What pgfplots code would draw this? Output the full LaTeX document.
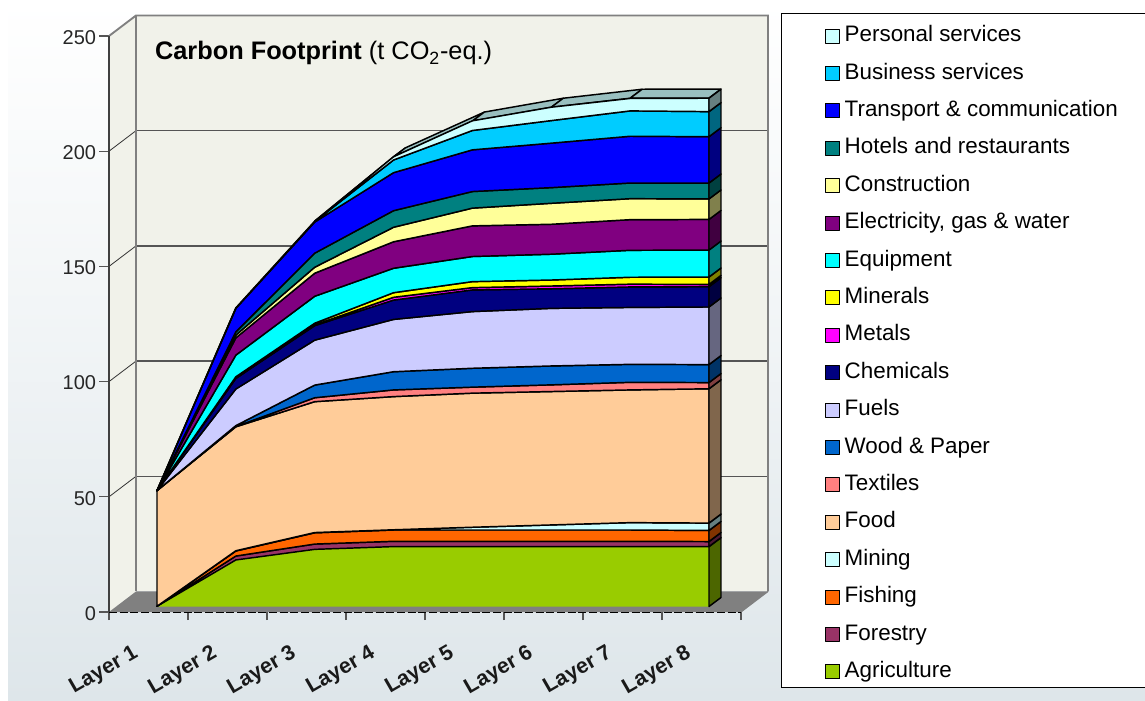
\documentclass[border=0pt]{standalone}
\usepackage{pgfplots}
\pgfplotsset{compat=1.18}
\usepackage{pgfplotstable}
\usepackage{fontspec}
\setmainfont{Liberation Sans}

% Emissions per layer, one column per sector (t CO2-eq.)
\pgfplotstableread{
layer agri fore fish mini food text wood fuel chem meta mine equi elec cons hote tran busi pers
1     0.1  0.0  0.0  0.0  50.2 0.0  0.0  0.0  0.0  0.0  0.0  0.0  0.0  0.0  0.0  0.0  0.0  0.0
2     20.2 1.7  2.2  0.1  53.8 0.1  0.4  15.9 4.6  0.2  0.5  9.4  7.5  1.2  1.4  10.2 0.1  0.1
3     24.8 2.3  4.9  0.1  56.8 1.7  5.5  19.5 6.3  0.35 0.7  11.7 10.0 2.6  6.1  13.5 0.2  0.2
4     26.0 2.3  4.9  0.1  57.8 2.9  7.9  22.7 8.4  1.2  2.0  10.6 11.5 6.3  7.2  16.5 5.5  1.4
5     26.0 2.3  4.9  1.2  58.2 2.6  8.2  24.6 9.4  1.0  2.6  10.9 13.3 7.7  7.2  18.1 8.4  4.2
6     26.0 2.3  4.9  2.2  57.9 2.9  8.2  25.0 8.5  1.2  2.6  11.2 13.0 9.1  6.8  19.3 9.8  5.8
7     26.0 2.3  4.9  3.2  57.6 3.3  7.8  24.7 8.9  1.2  3.0  11.7 13.3 9.1  6.8  20.3 11.0 5.4
8     26.0 2.2  4.8  3.2  58.3 2.7  7.8  25.0 8.8  1.0  3.2  11.7 13.3 8.9  6.9  20.1 10.9 5.8
}\footprint

% Sector colours
\definecolor{cagri}{HTML}{99CC00}
\definecolor{cfore}{HTML}{993366}
\definecolor{cfish}{HTML}{FF6600}
\definecolor{cmini}{HTML}{CCFFFF}
\definecolor{cfood}{HTML}{FFCC99}
\definecolor{ctext}{HTML}{FF8080}
\definecolor{cwood}{HTML}{0066CC}
\definecolor{cfuel}{HTML}{CCCCFF}
\definecolor{cchem}{HTML}{000080}
\definecolor{cmeta}{HTML}{FF00FF}
\definecolor{cmine}{HTML}{FFFF00}
\definecolor{cequi}{HTML}{00FFFF}
\definecolor{celec}{HTML}{800080}
\definecolor{ccons}{HTML}{FFFF99}
\definecolor{chote}{HTML}{008080}
\definecolor{ctran}{HTML}{0000FF}
\definecolor{cbusi}{HTML}{00CCFF}
\definecolor{cpers}{HTML}{CCFFFF}
\definecolor{wall}{HTML}{F1F2EA}
\definecolor{floorgrey}{HTML}{808080}
\definecolor{rulegrey}{HTML}{555555}
\definecolor{backdrop}{HTML}{DEE6EA}

% Sizes: one drawing unit is 0.75pt
\pgfplotsset{
  plane/.style={
    scale only axis, clip=false,
    width=#1, height=432pt,
    ymin=0, ymax=250,
  },
  edge/.style={draw=black, line width=1.1pt, line join=round},
}

\begin{document}
\begin{tikzpicture}[x=1pt,y=1pt]
\useasboundingbox (0,0) rectangle (858.75,525);
\fill[white] (0,0) rectangle (858.75,525);
\shade[top color=white, bottom color=backdrop, middle color=backdrop!45!white]
  (6,0) rectangle (858.75,525);
\fill[white] (585.75,514.5) rectangle (858.75,525);
\draw[black, line width=0.75pt, fill=white] (585.75,9.75) rectangle (860,514.5);

% Walls, floor, scale and category labels
\begin{axis}[plane=474pt, at={(81.75pt,66pt)}, anchor=south west,
  xmin=0.5, xmax=8.5,
  axis x line*=bottom, axis y line*=left,
  axis line style={draw=none},
  tick align=outside,
  xtick={1,...,8},
  xticklabels={Layer 1,Layer 2,Layer 3,Layer 4,Layer 5,Layer 6,Layer 7,Layer 8},
  minor xtick={0.5,1.5,2.5,3.5,4.5,5.5,6.5,7.5,8.5},
  major x tick style={draw=none},
  minor x tick style={draw=rulegrey, line width=1pt},
  minor tick length=6pt,
  ytick={0,50,...,250},
  major tick length=7.5pt,
  y tick style={draw=rulegrey, line width=1pt},
  yticklabel style={font=\fontsize{15}{15}\selectfont, text=black!85, inner sep=1pt, xshift=-1pt, yshift=-1pt},
  /pgf/number format/assume math mode=true,
  xticklabel style={font=\bfseries\fontsize{16}{16}\selectfont, text=black!90,
    rotate=30, anchor=east, inner sep=0pt, xshift=-19pt, yshift=-15pt},
]
  % back wall and side wall
  \fill[wall] (0.5,0) -- (0.842,8.9) -- (0.842,258.9) -- (0.5,250) -- cycle;
  \fill[wall] (0.842,8.9) rectangle (8.842,258.9);
  % floor
  \fill[floorgrey] (0.5,0) -- (0.842,8.9) -- (8.842,8.9) -- (8.5,0) -- cycle;
  \draw[black, line width=0.75pt, dash pattern=on 6pt off 2pt] (0.5,0) -- (8.5,0);
  % gridlines on both walls
  \draw[black!80, line width=0.6pt] (0.5,50) -- (0.842,58.9);
  \draw[black!80, line width=0.6pt] (0.5,100) -- (0.842,108.9);
  \draw[black!80, line width=0.6pt] (0.5,150) -- (0.842,158.9);
  \draw[black!80, line width=0.6pt] (0.5,200) -- (0.842,208.9);
  \draw[rulegrey, line width=1pt] (0.842,58.9) -- (8.842,58.9);
  \draw[rulegrey, line width=1pt] (0.842,108.9) -- (8.842,108.9);
  \draw[rulegrey, line width=1pt] (0.842,158.9) -- (8.842,158.9);
  \draw[rulegrey, line width=1pt] (0.842,208.9) -- (8.842,208.9);
  % wall outlines
  \draw[floorgrey, line width=1.4pt] (0.5,250) -- (0.842,258.9) -- (8.842,258.9) -- (8.842,8.9);
  \draw[floorgrey, line width=1.4pt] (0.842,258.9) -- (0.842,8.9);
  \draw[black!75, line width=1.2pt] (0.5,0) -- (0.5,250);
  \draw[floorgrey, line width=0.8pt] (8.842,8.9) -- (8.5,0);
  \node[anchor=west, inner sep=0pt, font=\fontsize{19}{19}\selectfont, text=black]
    at (1.08,242.5) {\textbf{Carbon Footprint} (t CO\textsubscript{2}-eq.)};
\end{axis}

% Upper face of the extruded stack, one panel per segment
\begin{axis}[plane=414pt, at={(117.75pt,70.125pt)}, anchor=south west,
  xmin=1, xmax=8, hide axis]
  \addplot[fill=cpers!75!black, edge] coordinates {(3,167.3) (3.152,171.2) (4.152,199.1) (4,195.2)} -- cycle;
  \addplot[fill=cpers!75!black, edge] coordinates {(4,195.2) (4.152,199.1) (5.152,214.6) (5,210.7)} -- cycle;
  \addplot[fill=cpers!75!black, edge] coordinates {(5,210.7) (5.152,214.6) (6.152,220.6) (6,216.7)} -- cycle;
  \addplot[fill=cpers!75!black, edge] coordinates {(6,216.7) (6.152,220.6) (7.152,224.5) (7,220.6)} -- cycle;
  \addplot[fill=cpers!75!black, edge] coordinates {(7,220.6) (7.152,224.5) (8.152,224.6) (8,220.7)} -- cycle;
\end{axis}

% Front faces of the stacked sectors, with the legend
\begin{axis}[plane=414pt, at={(117.75pt,70.125pt)}, anchor=south west,
  xmin=1, xmax=8, hide axis,
  stack plots=y, reverse stacked plots=false,
  reverse legend,
  legend cell align=left,
  legend image code/.code={%
    \draw[#1, draw=black, line width=0.75pt] (0pt,-5pt) rectangle (10.5pt,5.5pt);},
  legend style={at={(rel axis cs:1.2102,1.0083)}, anchor=north west,
    draw=none, fill=none, inner sep=0pt, outer sep=0pt,
    row sep=12.05pt, column sep=3.5pt,
    font=\fontsize{16.8}{16.8}\selectfont,
    nodes={inner sep=0pt, anchor=west, text height=12pt, text depth=4pt}},
]
  \addplot[fill=cagri, draw=none] table[x=layer,y=agri]{\footprint} \closedcycle;
  \addlegendentry{Agriculture}
  \addplot[fill=cfore, edge] table[x=layer,y=fore]{\footprint} \closedcycle;
  \addlegendentry{Forestry}
  \addplot[fill=cfish, edge] table[x=layer,y=fish]{\footprint} \closedcycle;
  \addlegendentry{Fishing}
  \addplot[fill=cmini, edge] table[x=layer,y=mini]{\footprint} \closedcycle;
  \addlegendentry{Mining}
  \addplot[fill=cfood, edge] table[x=layer,y=food]{\footprint} \closedcycle;
  \addlegendentry{Food}
  \addplot[fill=ctext, edge] table[x=layer,y=text]{\footprint} \closedcycle;
  \addlegendentry{Textiles}
  \addplot[fill=cwood, edge] table[x=layer,y=wood]{\footprint} \closedcycle;
  \addlegendentry{Wood \& Paper}
  \addplot[fill=cfuel, edge] table[x=layer,y=fuel]{\footprint} \closedcycle;
  \addlegendentry{Fuels}
  \addplot[fill=cchem, edge] table[x=layer,y=chem]{\footprint} \closedcycle;
  \addlegendentry{Chemicals}
  \addplot[fill=cmeta, edge] table[x=layer,y=meta]{\footprint} \closedcycle;
  \addlegendentry{Metals}
  \addplot[fill=cmine, edge] table[x=layer,y=mine]{\footprint} \closedcycle;
  \addlegendentry{Minerals}
  \addplot[fill=cequi, edge] table[x=layer,y=equi]{\footprint} \closedcycle;
  \addlegendentry{Equipment}
  \addplot[fill=celec, edge] table[x=layer,y=elec]{\footprint} \closedcycle;
  \addlegendentry{Electricity, gas \& water}
  \addplot[fill=ccons, edge] table[x=layer,y=cons]{\footprint} \closedcycle;
  \addlegendentry{Construction}
  \addplot[fill=chote, edge] table[x=layer,y=hote]{\footprint} \closedcycle;
  \addlegendentry{Hotels and restaurants}
  \addplot[fill=ctran, edge] table[x=layer,y=tran]{\footprint} \closedcycle;
  \addlegendentry{Transport \& communication}
  \addplot[fill=cbusi, edge] table[x=layer,y=busi]{\footprint} \closedcycle;
  \addlegendentry{Business services}
  \addplot[fill=cpers, edge] table[x=layer,y=pers]{\footprint} \closedcycle;
  \addlegendentry{Personal services}
\end{axis}

% Right-hand side face of the stack at Layer 8
\begin{axis}[plane=414pt, at={(117.75pt,70.125pt)}, anchor=south west,
  xmin=1, xmax=8, hide axis,
  stack plots=y, reverse stacked plots=false]
  \addplot[draw=none] coordinates {(8,0) (8.152,3.9)};
  \addplot[fill=cagri!50!black, edge] coordinates {(8,26.0) (8.152,26.0)} \closedcycle;
  \addplot[fill=cfore!50!black, edge] coordinates {(8,2.2) (8.152,2.2)} \closedcycle;
  \addplot[fill=cfish!50!black, edge] coordinates {(8,4.8) (8.152,4.8)} \closedcycle;
  \addplot[fill=cmini!50!black, edge] coordinates {(8,3.2) (8.152,3.2)} \closedcycle;
  \addplot[fill=cfood!50!black, edge] coordinates {(8,58.3) (8.152,58.3)} \closedcycle;
  \addplot[fill=ctext!50!black, edge] coordinates {(8,2.7) (8.152,2.7)} \closedcycle;
  \addplot[fill=cwood!50!black, edge] coordinates {(8,7.8) (8.152,7.8)} \closedcycle;
  \addplot[fill=cfuel!50!black, edge] coordinates {(8,25.0) (8.152,25.0)} \closedcycle;
  \addplot[fill=cchem!50!black, edge] coordinates {(8,8.8) (8.152,8.8)} \closedcycle;
  \addplot[fill=cmeta!50!black, edge] coordinates {(8,1.0) (8.152,1.0)} \closedcycle;
  \addplot[fill=cmine!50!black, edge] coordinates {(8,3.2) (8.152,3.2)} \closedcycle;
  \addplot[fill=cequi!50!black, edge] coordinates {(8,11.7) (8.152,11.7)} \closedcycle;
  \addplot[fill=celec!50!black, edge] coordinates {(8,13.3) (8.152,13.3)} \closedcycle;
  \addplot[fill=ccons!50!black, edge] coordinates {(8,8.9) (8.152,8.9)} \closedcycle;
  \addplot[fill=chote!50!black, edge] coordinates {(8,6.9) (8.152,6.9)} \closedcycle;
  \addplot[fill=ctran!50!black, edge] coordinates {(8,20.1) (8.152,20.1)} \closedcycle;
  \addplot[fill=cbusi!50!black, edge] coordinates {(8,10.9) (8.152,10.9)} \closedcycle;
  \addplot[fill=cpers!50!black, edge] coordinates {(8,5.8) (8.152,5.8)} \closedcycle;
\end{axis}
\end{tikzpicture}
\end{document}
